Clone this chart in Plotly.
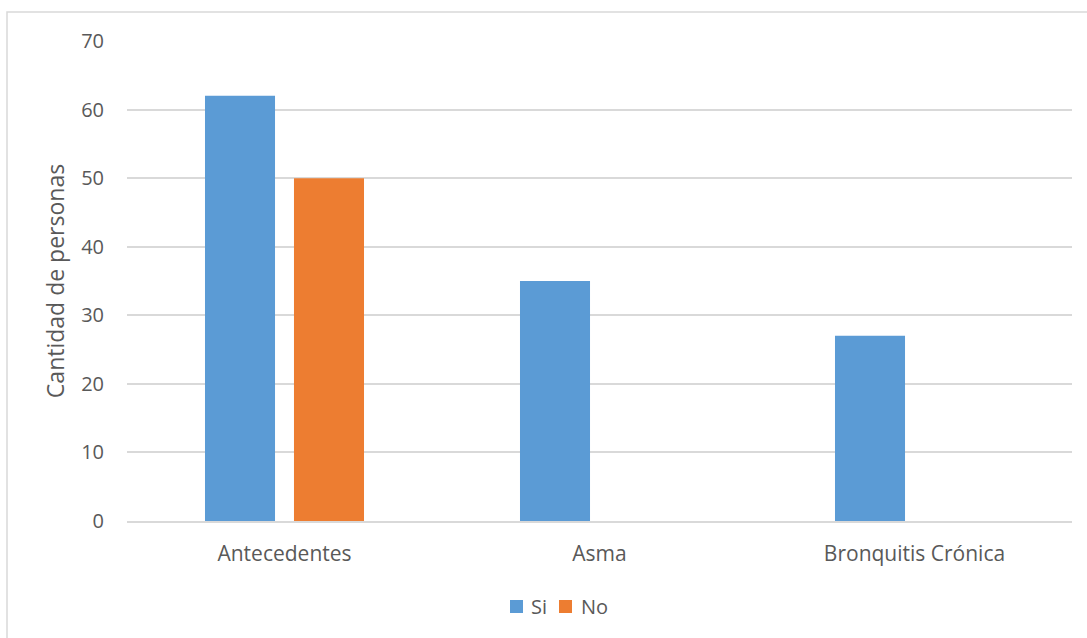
import plotly.graph_objects as go

categories = ["Antecedentes", "Asma", "Bronquitis Crónica"]
si_values = [62, 35, 27]
no_values = [50, 0, 0]
y_ticks = [0, 10, 20, 30, 40, 50, 60, 70]
series_names = ["Si", "No"]
series_colors = ["#5B9BD5", "#ED7D31"]

W, H = 1087, 638
# plot-area pixel edges
PL, PR, PT, PB = 127, 1072, 41, 521
L, T, R, B = PL, PT, W - PR, H - PB
pw, ph = W - L - R, H - T - B

def px_x(p):
    return (p - L) / pw

def px_y(p):
    return (H - B - p) / ph

font_family = "Open Sans, DejaVu Sans, sans-serif"
gray = "#595959"

fig = go.Figure()
for name, vals, col in zip(series_names, [si_values, no_values], series_colors):
    fig.add_trace(go.Bar(name=name, x=categories, y=vals, marker_color=col,
                         marker_line_width=0, showlegend=False))

shapes = [dict(type="path", xref="paper", yref="paper",
               path=f"M {px_x(7)} {px_y(660)} L {px_x(7)} {px_y(12)} L {px_x(1110)} {px_y(12)}",
               line=dict(color="#d9d9d9", width=1.5))]
annotations = []
legend_sq = [510, 559]
legend_tx = [529, 579]
for name, col, sx, tx in zip(series_names, series_colors, legend_sq, legend_tx):
    shapes.append(dict(type="rect", xref="paper", yref="paper",
                       x0=px_x(sx), x1=px_x(sx + 13), y0=px_y(613), y1=px_y(600),
                       fillcolor=col, line=dict(width=0)))
    annotations.append(dict(text=name, xref="paper", yref="paper", x=px_x(tx), y=px_y(606),
                            xanchor="left", yanchor="middle", showarrow=False,
                            font=dict(size=20, color=gray)))

fig.update_layout(
    width=W, height=H,
    margin=dict(l=L, r=R, t=T, b=B, autoexpand=False),
    paper_bgcolor="white", plot_bgcolor="white",
    barmode="group", bargap=0.435, bargroupgap=0.213,
    font=dict(family=font_family, size=20, color=gray),
    showlegend=False,
    xaxis=dict(showgrid=False, showline=True, linecolor="#d9d9d9", linewidth=1.5,
               ticks="", tickfont=dict(size=21, color=gray), ticklabelstandoff=13),
    yaxis=dict(range=[0, 70], tickvals=y_ticks, showgrid=True, gridcolor="#d9d9d9",
               gridwidth=1.5, zeroline=False, showline=False, ticks="",
               tickfont=dict(size=20, color=gray), ticklabelstandoff=22,
               title=dict(text="Cantidad de personas", font=dict(size=23, color=gray), standoff=10)),
    shapes=shapes,
    annotations=annotations,
)

fig.write_html("out.html", config={"displayModeBar": False},
               post_script="document.body.style.margin='0';document.body.style.overflow='hidden';")
